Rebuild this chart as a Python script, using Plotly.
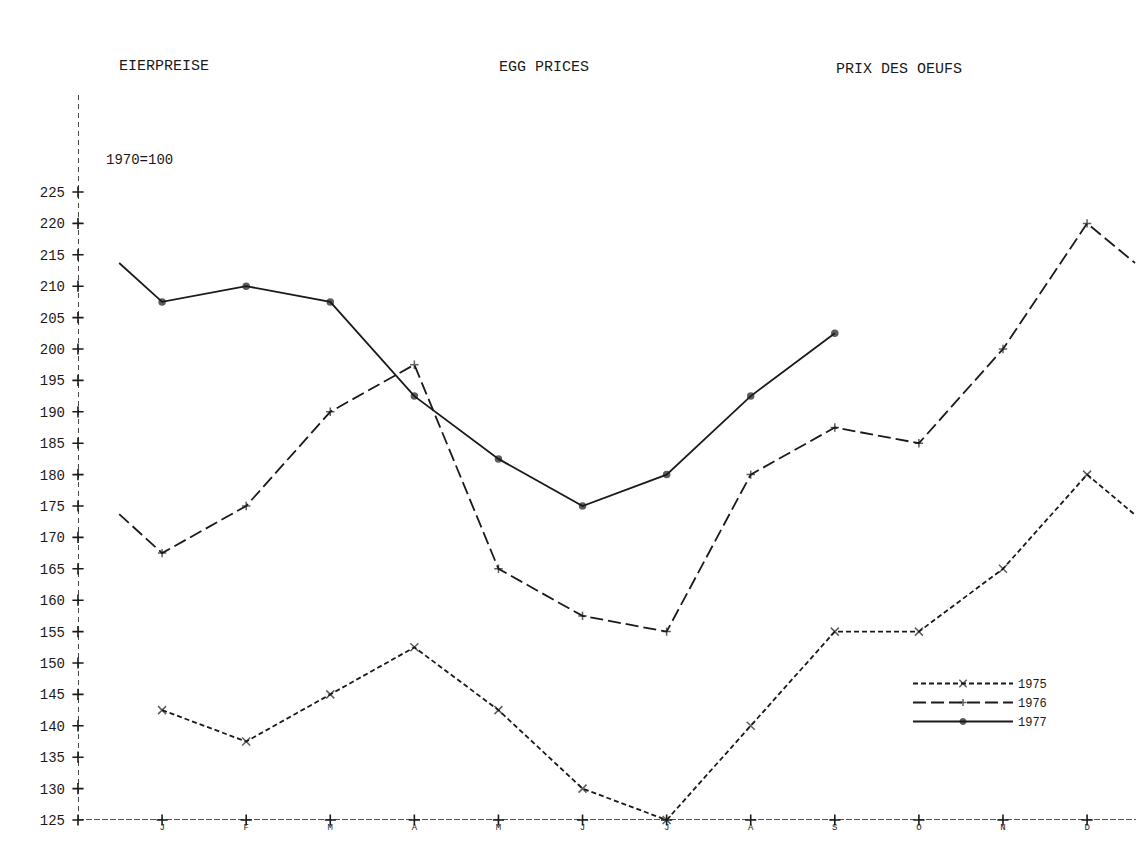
import plotly.graph_objects as go

months = ["J", "F", "M", "A", "M", "J", "J", "A", "S", "O", "N", "D"]
month_pos = list(range(1, 13))
y_ticks = list(range(125, 230, 5))

v1975 = [142.5, 137.5, 145, 152.5, 142.5, 130, 125, 140, 155, 155, 165, 180]
v1976 = [167.5, 175, 190, 197.5, 165, 157.5, 155, 180, 187.5, 185, 200, 220]
v1977 = [207.5, 210, 207.5, 192.5, 182.5, 175, 180, 192.5, 202.5]

# partial segments continuing from previous December / into next January
lead_x = 0.49
tail_x = 12.57
lead1976, lead1977 = 173.7, 213.7
tail1975, tail1976 = 173.6, 213.7

FONT = "Liberation Mono"
INK = "#1a1a1a"

# page geometry (the page body adds an 8px offset)
OFF = 8
W, H = 1128, 825
AX_X, AX_BOTTOM, AX_TOP, AX_RIGHT = 78, 820, 93, 1136
PW = AX_RIGHT - AX_X
PH = AX_BOTTOM - AX_TOP


def px(page_x):
    return (page_x - AX_X) / PW


def py(page_y):
    return (AX_BOTTOM - page_y) / PH


fig = go.Figure()


def add_series(name, xs, ys, dash, symbol, msize, lead=None, tail=None):
    x = list(xs)
    y = list(ys)
    sizes = [msize] * len(y)
    if lead is not None:
        x = [lead_x] + x
        y = [lead] + y
        sizes = [0] + sizes
    if tail is not None:
        x = x + [tail_x]
        y = y + [tail]
        sizes = sizes + [0]
    fig.add_trace(go.Scatter(
        x=x, y=y, name=name, mode="lines+markers",
        line=dict(color=INK, width=1.8, dash=dash),
        marker=dict(symbol=symbol, size=sizes, color=INK,
                    line=dict(color=INK, width=1.5)),
        cliponaxis=False,
    ))


add_series("1975", month_pos, v1975, "5px,3px", "x-thin", 8, tail=tail1975)
add_series("1976", month_pos, v1976, "13px,5px", "cross-thin", 6, lead=lead1976, tail=tail1976)
add_series("1977", month_pos[:len(v1977)], v1977, "solid", "circle", 6, lead=lead1977)

# axis tick crosses
fig.add_trace(go.Scatter(
    x=[0] * len(y_ticks), y=y_ticks, mode="markers", showlegend=False,
    marker=dict(symbol="cross-thin", size=8, color=INK, line=dict(color=INK, width=1.6)),
    cliponaxis=False, hoverinfo="skip",
))
fig.add_trace(go.Scatter(
    x=month_pos, y=[y_ticks[0]] * len(month_pos), mode="markers", showlegend=False,
    marker=dict(symbol="cross-thin", size=8, color=INK, line=dict(color=INK, width=1.6)),
    cliponaxis=False, hoverinfo="skip",
))

x_max = (AX_RIGHT - AX_X) / 84.09
y_max = 125 + PH / 6.28

fig.update_layout(
    width=W, height=H,
    margin=dict(l=AX_X - OFF, r=W - (AX_RIGHT - OFF), t=AX_TOP - OFF, b=H - (AX_BOTTOM - OFF)),
    paper_bgcolor="white", plot_bgcolor="white",
    font=dict(family=FONT, size=14, color=INK),
    showlegend=True,
    legend=dict(x=px(908), y=py(669), xanchor="left", yanchor="top",
                bgcolor="rgba(0,0,0,0)", itemwidth=100,
                font=dict(family=FONT, size=12, color=INK),
                tracegroupgap=0),
    xaxis=dict(range=[0, x_max], tickvals=month_pos, ticktext=months,
               showgrid=False, zeroline=False, showline=False, ticks="",
               automargin=False,
               ticklabelstandoff=0, tickfont=dict(family=FONT, size=9)),
    yaxis=dict(range=[125, y_max], tickvals=y_ticks,
               showgrid=False, zeroline=False, showline=False, ticks="",
               automargin=False,
               ticklabelstandoff=12, tickfont=dict(family=FONT, size=14)),
    shapes=[
        dict(type="line", xref="paper", yref="y", x0=0, x1=1, y0=125, y1=125,
             line=dict(color=INK, width=1.6, dash="6px,2px"), layer="below"),
        dict(type="line", xref="x", yref="paper", x0=0, x1=0, y0=0, y1=1,
             line=dict(color=INK, width=1.6, dash="5px,4px"), layer="below"),
    ],
    annotations=[
        dict(text="EIERPREISE", xref="paper", yref="paper", x=px(117), y=py(67),
             xanchor="left", yanchor="middle", showarrow=False, font=dict(family=FONT, size=15)),
        dict(text="EGG PRICES", xref="paper", yref="paper", x=px(497), y=py(68),
             xanchor="left", yanchor="middle", showarrow=False, font=dict(family=FONT, size=15)),
        dict(text="PRIX DES OEUFS", xref="paper", yref="paper", x=px(834), y=py(69),
             xanchor="left", yanchor="middle", showarrow=False, font=dict(family=FONT, size=15)),
        dict(text="1970=100", xref="paper", yref="paper", x=px(104), y=py(160),
             xanchor="left", yanchor="middle", showarrow=False, font=dict(family=FONT, size=14)),
    ],
)

fig.write_html("out.html")
